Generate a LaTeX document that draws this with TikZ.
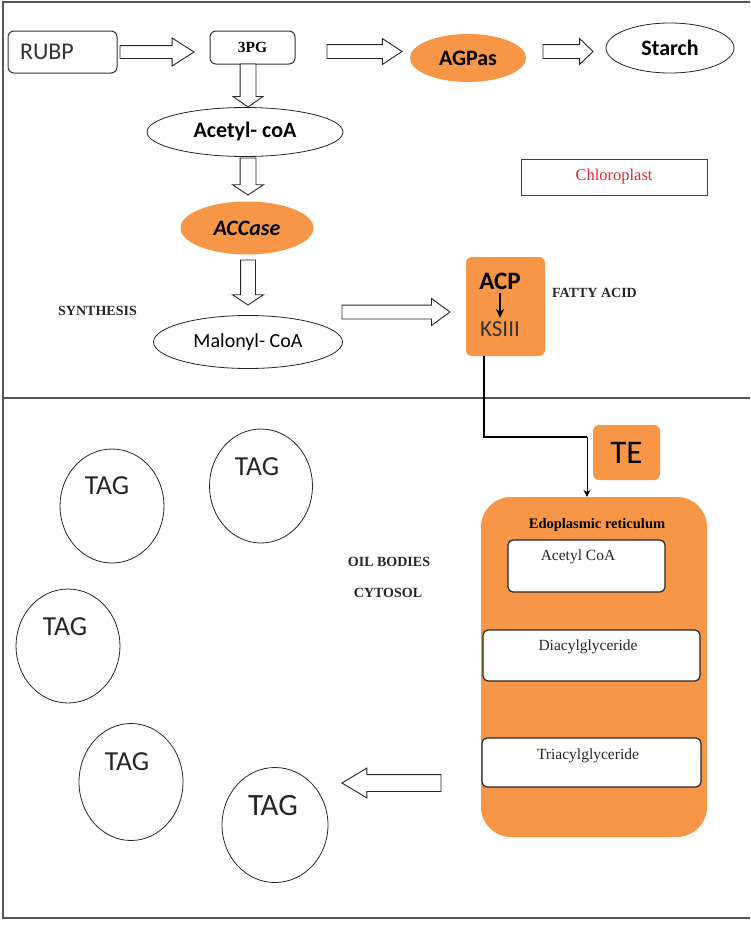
\documentclass[tikz,border=0pt]{standalone}
\usepackage{fontspec}
\newfontfamily\calib{Carlito}
\newfontfamily\tnr{Liberation Serif}
\usepackage{tikz}
\usetikzlibrary{
    arrows.meta,
    shapes.geometric,
    shapes.arrows,
    positioning
}
\newcommand{\fsz}[1]{\fontsize{#1}{#1}\selectfont}
\definecolor{enzorange}{HTML}{F79646}
\definecolor{redtext}{HTML}{E8262E}
\definecolor{framegray}{HTML}{555555}
\tikzset{
    blockarrow/.style={single arrow, draw=black!85, fill=white, line width=0.9pt,
        inner xsep=0pt, inner ysep=6.5pt, outer sep=0pt,
        single arrow head extend=6.5pt, single arrow tip angle=70, anchor=tail},
    molbox/.style={draw=black!80, rounded corners=6pt, line width=1pt, fill=white},
    molell/.style={ellipse, draw=black!85, line width=0.8pt, fill=white, inner sep=0pt},
    enzell/.style={ellipse, fill=enzorange, inner sep=0pt},
    enzbox/.style={fill=enzorange, rounded corners=6pt},
    erbox/.style={draw=black!85, line width=1.2pt, rounded corners=5pt, fill=white},
    tagball/.style={ellipse, draw=black!85, line width=0.8pt, inner sep=0pt},
    tagtext/.style={font=\calib\fsz{27.5}, text=black!85},
    smallcaps/.style={font=\tnr\bfseries\fsz{14}, text=black!85},
    ertext/.style={font=\tnr\fsz{15.5}, text=black!85}
}
\begin{document}
\begin{tikzpicture}[x=1pt, y=-1pt]
    \useasboundingbox (0,0) rectangle (750,926);
    % frame and divider
    \draw[framegray, line width=2pt] (750,2) -- (3,2) -- (3,918) -- (750,918);
    \draw[framegray, line width=1.5pt] (3,398) -- (750,398);

    % chloroplast
    \node[molbox, minimum height=42pt, text width=85pt, inner xsep=12pt, align=left,
        font=\calib\fsz{24}, text=black!80] (rubp) at (62.5,52) {RUBP};
    \node[molbox, minimum width=85pt, minimum height=33pt, font=\tnr\bfseries\fsz{15.5}] (pg) at (252.5,47.5) {3PG};
    \node[enzell, minimum width=116pt, minimum height=48pt, font=\calib\bfseries\fsz{22}] (agp) at (468,58) {AGPas};
    \node[molell, minimum width=128pt, minimum height=50pt, font=\calib\bfseries\fsz{22}] (starch) at (670,48) {Starch};
    \node[molell, minimum width=196pt, minimum height=49pt, font=\calib\bfseries\fsz{22}] (acoa) at (245,132) {Acetyl- coA};
    \node[enzell, minimum width=133pt, minimum height=53pt, font=\calib\bfseries\itshape\fsz{22}] (acc) at (247,228) {ACCase};
    \node[molell, minimum width=189pt, minimum height=53pt, font=\calib\fsz{20}] (mal) at (248,342) {Malonyl- CoA};
    \node[draw=black!75, line width=1pt, minimum width=186pt, minimum height=36pt,
        font=\tnr\fsz{16.5}, text=redtext] (chl) at (614,177) {Chloroplast};
    \node[smallcaps] (syn) at (97.5,311) {SYNTHESIS};
    \node[smallcaps] (fatty) at (594.5,293) {FATTY ACID};

    \node[enzbox, minimum width=79pt, minimum height=99pt] (fabox) at (505.5,306.5) {};
    \node[font=\calib\bfseries\fsz{25}] (acp) at (500,281) {ACP};
    \node[font=\calib\fsz{23}, text=black!80] (ks) at (500,329) {KSIII};
    \draw[-{Stealth[length=9pt,width=8pt]}, line width=2pt] (acp) -- (ks);

    % block arrows
    \node[blockarrow, minimum height=74pt, inner ysep=6pt, single arrow head extend=7.5pt,
        single arrow tip angle=65] (r2p) at (120,52) {};
    \node[blockarrow, minimum height=75pt, single arrow head extend=6pt,
        single arrow tip angle=67] (p2a) at (327,51.5) {};
    \node[blockarrow, minimum height=50pt, single arrow head extend=6pt,
        single arrow tip angle=88] (a2s) at (543,51.5) {};
    \node[blockarrow, rotate=-90, minimum height=43pt, inner ysep=7.5pt,
        single arrow head extend=7pt, single arrow tip angle=110] (p2c) at (248,64) {};
    \node[blockarrow, rotate=-90, minimum height=37pt, inner ysep=7.5pt,
        single arrow head extend=7.5pt, single arrow tip angle=113] (c2e) at (248,158) {};
    \node[blockarrow, rotate=-90, minimum height=45pt, inner ysep=7pt,
        single arrow head extend=8pt, single arrow tip angle=113] (e2m) at (248,260) {};
    \node[blockarrow, minimum height=108pt, single arrow tip angle=72] (m2f) at (342,312) {};

    % fatty acid export
    \node[enzbox, minimum width=67pt, minimum height=55pt, font=\calib\fsz{33}] (te) at (626.5,452.5) {TE};
    \node[enzbox, rounded corners=30pt, minimum width=226pt, minimum height=340pt] (er) at (594,667) {};
    \coordinate (bend) at (587,437);
    \draw[line width=2pt] ([xshift=-21.5pt]fabox.south) |- (bend);
    \draw[line width=1pt, -{Stealth[length=7pt,width=7pt]}] (bend) -- (er.north -| bend);

    \node[font=\tnr\bfseries\fsz{14.5}] (ertitle) at (597,525) {Edoplasmic reticulum};
    \node[erbox, minimum width=157pt, minimum height=52pt] (acbox) at (586.5,566) {};
    \node[ertext] (actext) at (578,557) {Acetyl CoA};
    \node[erbox, minimum width=217pt, minimum height=51pt] (dagbox) at (591.5,655.5) {};
    \node[ertext] (dagtext) at (588,647) {Diacylglyceride};
    \node[erbox, minimum width=219pt, minimum height=49pt] (tgbox) at (591.5,762.5) {};
    \node[ertext] (tgtext) at (588,756) {Triacylglyceride};
    \node[blockarrow, rotate=180, minimum height=99pt, inner ysep=8pt,
        single arrow tip angle=62] (er2tag) at (441,783) {};

    % oil bodies
    \node[smallcaps] (oil) at (389,562) {OIL BODIES};
    \node[smallcaps] (cyt) at (388,593) {CYTOSOL};
    \node[tagball, minimum width=104pt, minimum height=114pt] (tag1) at (112,506) {};
    \node[tagtext] (tag1t) at (107,486) {TAG};
    \node[tagball, minimum width=103pt, minimum height=114pt] (tag2) at (261,486) {};
    \node[tagtext] (tag2t) at (257,467) {TAG};
    \node[tagball, minimum width=104pt, minimum height=114pt] (tag3) at (68,646) {};
    \node[tagtext] (tag3t) at (65,627) {TAG};
    \node[tagball, minimum width=104pt, minimum height=117pt] (tag4) at (131,782) {};
    \node[tagtext] (tag4t) at (127,762) {TAG};
    \node[tagball, minimum width=106pt, minimum height=115pt] (tag5) at (275,825) {};
    \node[tagtext, font=\calib\fsz{31}] (tag5t) at (273,806) {TAG};
\end{tikzpicture}
\end{document}
